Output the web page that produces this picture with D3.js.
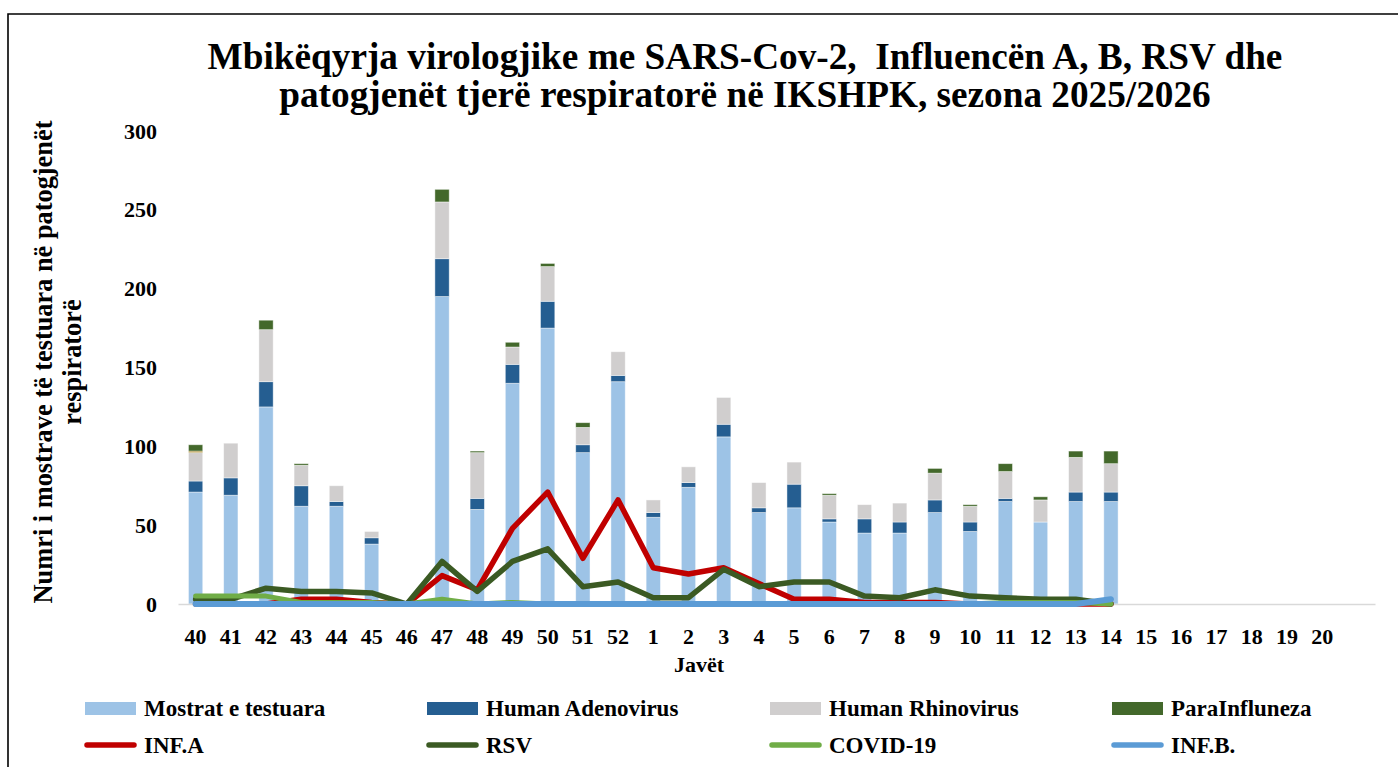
<!DOCTYPE html>
<html><head><meta charset="utf-8">
<script src="https://cdn.jsdelivr.net/npm/d3@7"></script>
<style>
html,body{margin:0;padding:0;background:#fff;}
svg{display:block;font-family:"Liberation Serif","Times New Roman",serif;font-weight:bold;}
.pre{white-space:pre;}
</style></head>
<body>
<svg id="chart" width="1398" height="767"></svg>
<script>
// ---- data ----
const weeks = ["40","41","42","43","44","45","46","47","48","49","50","51","52","1","2","3","4","5","6","7","8","9","10","11","12","13","14","15","16","17","18","19","20",""];
const mostrat = [71,69,125,62,62,38,0,195,60,140,175,96,141,55,74,106,58,61,52,45,45,58,46,65,52,65,65];
const adeno   = [7,11,16,13,3,4,0,24,7,12,17,5,4,3,3,8,3,15,2,9,7,8,6,2,0,6,6];
const rhino   = [18,22,33,13,10,4,0,36,29,11,22,11,15,8,10,17,16,14,15,9,12,17,10,17,14,22,18];
const other   = [1,0,0,0,0,0,0,0,0,0,0,0,0,0,0,0,0,0,0,0,0,0,0,0,0,0,0];
const para    = [4,0,6,1,0,0,0,8,1,3,2,3,0,0,0,0,0,0,1,0,0,3,1,5,2,4,8];
const infA    = [0,0,0,3,3,1,0,18,9,48,71,29,66,23,19,23,13,3,3,1,1,1,0,0,0,0,0];
const rsv     = [3,3,10,8,8,7,0,27,8,27,35,11,14,4,4,22,11,14,14,5,4,9,5,4,3,3,0];
const covid   = [5,5,5,1,1,1,0,3,0,1,0,0,0,0,0,0,0,0,0,0,0,0,0,1,1,1,0];
const infB    = [0,0,0,0,0,0,0,0,0,0,0,0,0,0,0,0,0,0,0,0,0,0,0,0,0,0,3];
const yTicks  = [0,50,100,150,200,250,300];
const titleLines = ["Mbikëqyrja virologjike me SARS-Cov-2,  Influencën A, B, RSV dhe","patogjenët tjerë respiratorë në IKSHPK, sezona 2025/2026"];
const yTitleLines = ["Numri i mostrave të testuara në patogjenët","respiratorë"];
const xTitle = "Javët";

const barSeries = [
  {name:"Mostrat e testuara", vals:mostrat, color:"#9DC3E6", legend:true},
  {name:"Human Adenovirus", vals:adeno, color:"#255E91", legend:true},
  {name:"Human Rhinovirus", vals:rhino, color:"#D0CECE", legend:true},
  {name:"Other", vals:other, color:"#9C7A0E", legend:false},
  {name:"ParaInfluneza", vals:para, color:"#43682B", legend:true}
];
const lineSeries = [
  {name:"INF.A", vals:infA, color:"#C00000"},
  {name:"RSV", vals:rsv, color:"#3B5A23"},
  {name:"COVID-19", vals:covid, color:"#70AD47"},
  {name:"INF.B.", vals:infB, color:"#5B9BD5"}
];

const svg = d3.select("#chart");

// frame
svg.append("path").attr("d","M8,770 L8,14 L1400,14").attr("fill","none").attr("stroke","#000").attr("stroke-width",1.6);

const x = d3.scaleBand().domain(weeks).range([178,1375]).paddingInner(0.594).paddingOuter(0.297);
const y = d3.scaleLinear().domain([0,300]).range([604,131]);

// bars (stacked)
const nBars = mostrat.length;
const stackData = d3.range(nBars).map(i => {
  const o = {week: weeks[i]};
  barSeries.forEach(s => o[s.name] = s.vals[i]);
  return o;
});
const stacked = d3.stack().keys(barSeries.map(s=>s.name))(stackData);
stacked.forEach((layer, li) => {
  svg.append("g").selectAll("rect").data(layer.filter(d => d[1]-d[0] > 0)).join("rect")
    .attr("x", d => x(d.data.week))
    .attr("width", x.bandwidth())
    .attr("y", d => y(d[1]))
    .attr("height", d => y(d[0]) - y(d[1]))
    .attr("fill", barSeries[li].color)
    .attr("stroke", "#ffffff").attr("stroke-opacity",0.55).attr("stroke-width",0.8);
});

// x axis
const xAxis = svg.append("g").attr("transform","translate(0,604)")
  .call(d3.axisBottom(x).tickSize(0).tickSizeOuter(0).tickPadding(24));
xAxis.select(".domain").attr("stroke","#D9D9D9").attr("stroke-width",1.5);
xAxis.selectAll("text").attr("font-size",22).attr("font-weight","bold")
  .attr("font-family","Liberation Serif, serif").attr("fill","#000");

// y axis
const yAxis = svg.append("g").attr("transform","translate(178,0)")
  .call(d3.axisLeft(y).tickValues(yTicks).tickSize(0).tickPadding(21));
yAxis.select(".domain").remove();
yAxis.selectAll("text").attr("font-size",22).attr("font-weight","bold")
  .attr("font-family","Liberation Serif, serif").attr("fill","#000");

// lines
const cx = (i) => x(weeks[i]) + x.bandwidth()/2;
const lineGen = d3.line().x((d,i)=>cx(i)).y(d=>y(d));
const widths = {"INF.A":5.5,"RSV":5.5,"COVID-19":5,"INF.B.":6};
lineSeries.forEach(s => {
  svg.append("path").datum(s.vals).attr("d", lineGen)
    .attr("fill","none").attr("stroke", s.color).attr("stroke-width", widths[s.name])
    .attr("stroke-linejoin","round").attr("stroke-linecap","round");
});

// title
const title = svg.append("g");
const t1 = title.append("text").attr("class","pre").attr("x",745).attr("y",69).attr("text-anchor","middle")
  .attr("font-size",32).text(titleLines[0]);
const w1 = t1.node().getComputedTextLength();
const fsTitle = 32 * 1075 / w1;
t1.attr("font-size", fsTitle);
title.append("text").attr("class","pre").attr("x",745).attr("y",107).attr("text-anchor","middle")
  .attr("font-size",fsTitle).text(titleLines[1]);

// y title
const yt = svg.append("g").attr("transform","translate(0,362) rotate(-90)");
const yt1 = yt.append("text").attr("x",0).attr("y",52).attr("text-anchor","middle").attr("font-size",22).text(yTitleLines[0]);
const wy = yt1.node().getComputedTextLength();
const fsY = 22 * 483 / wy;
yt1.attr("font-size", fsY);
yt.append("text").attr("x",0).attr("y",81).attr("text-anchor","middle").attr("font-size",fsY).text(yTitleLines[1]);

// x title
svg.append("text").attr("x",699).attr("y",672).attr("text-anchor","middle").attr("font-size",22).text(xTitle);

// legend
const colX = [85,427,770,1112];
const legendBars = barSeries.filter(s=>s.legend);
legendBars.forEach((s,i) => {
  svg.append("rect").attr("x",colX[i]).attr("y",702).attr("width",51).attr("height",13).attr("fill",s.color);
  svg.append("text").attr("x",colX[i]+59).attr("y",716).attr("font-size",23).text(s.name);
});
lineSeries.forEach((s,i) => {
  svg.append("line").attr("x1",colX[i]+2).attr("x2",colX[i]+49).attr("y1",745).attr("y2",745)
    .attr("stroke",s.color).attr("stroke-width",5.5).attr("stroke-linecap","round");
  svg.append("text").attr("x",colX[i]+59).attr("y",753).attr("font-size",23).text(s.name);
});
</script>
</body></html>
